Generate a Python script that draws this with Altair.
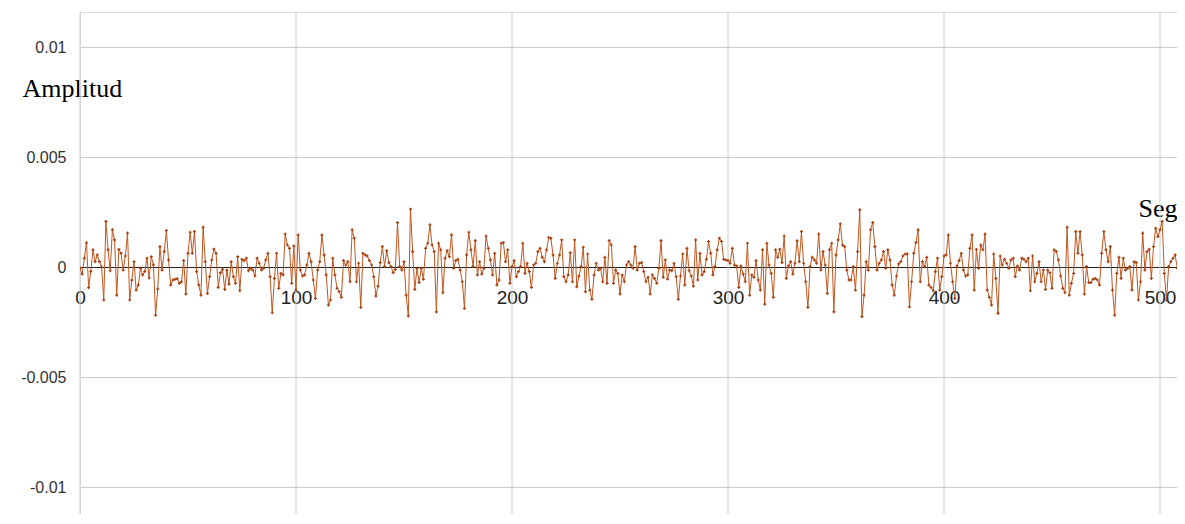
import altair as alt
import pandas as pd

# Amplitude readings, in units of 1e-4, one per sample (samples 0..511)
AMP_E4_A = [-0.5, -3.2, 4, 11, -9.4, -2, 7.8, 2.4, 5.5, 2.4, 0, -15, 20.7, 7.8, -1.7, 16.9, 12.3, -12.8, 8, 6.2, -1.4, 5, 15.4, -15, -6, 2.4, -10.5, -8.2, -0.6, -3.6, -2, 4, -5, 4.7, 1, -21.9, -10, 9.3, -1.4, 7, 16.6, 3.2, -8.2]
AMP_E4_B = [-5.9, -5.6, -5.3, -7.4, -6.7, 2.9, -12.3, 6.2, 15.8, 6.2, 16.1, -2.1, -8.2, -12.8, 18.1, 2.4, -12, -4.4, 3.2, 8.1, 6.2, -9.3, -2.6, -1.1, -10.2, -1.4, -7.8, 2.4, -4.4, -7.4, 4.7, -10.8, 3.5, 2.9, 4, -1.7, -0.6, -1.4, -4.1, 4, 1.7, -1.4, -0.6]
AMP_E4_C = [3.2, 6.2, -4.4, -20.8, -5.2, 6.2, -9.7, -2.9, -3.6, 15, 10, 8.5, -7.4, 9.6, -10.5, 14.6, -1.4, -4.1, -3.6, 0.9, 6.2, 2.4, -5.9, -14.3, -1.4, 2.4, 14.6, 5.5, -3.6, -17.3, -15, 4, -3.6, -9.7, -11.2, -13.8, 2.9, 0.9, 2.4, -6.7, 16.9, 13.1, -6.7]
AMP_E4_D = [1.7, -18.4, 6.2, 5.5, 5, 2.9, 0.9, -4.4, -13.2, -8.7, 2, 9.3, 0.2, 7.4, 2, 0.2, -2.6, -1.1, 20.2, 0.2, -1.4, 2.4, -12.8, -22.3, 26.3, 7, -10.2, -0.6, -7.1, -0.6, -5.6, 8.5, 10.8, 19.2, 10, 7, -20.4, 10.8, 7.8, -11.7, 4, 7.4, 4.7]
AMP_E4_E = [14.6, -0.6, 2.9, 3.5, -1.4, -6.7, -18.8, 5.5, 15.8, 7.8, 0.2, 12, -3.6, 2.4, -3.2, -0.6, 14.1, 8.5, 3.2, -3.6, 6.2, -8.2, -5.9, 10.8, 11.1, 2.4, 7.8, -7.4, 0.2, 2.9, -4.4, -2.1, 0.2, 10.8, -2.9, 1.7, -2.1, -9.3, 0.9, 1.7, 7, 8.5]
AMP_E4_F = [4.4, 2.4, 7.8, 13.4, 13.1, 5.5, -5.2, 1.7, 5.5, 12.3, -4.4, -6.7, -3.6, 6.5, -6.7, 12.3, -9, -4.1, 0.2, 9, -11.2, 5.9, -10.5, -14.7, -3.6, 1.7, -1.4, -0.6, -6.7, 4.4, -7.4, 12, 10, -7.4, -1.4, -2.9, -12.3, -3.6, -6.7, 0.9, 2.4, 0.9, -0.6]
AMP_E4_G = [9.3, -1.4, 1.7, 2, -2.1, -6.7, -4.7, -12.3, -3.6, -5.2, -7.4, -0.6, 12, -4.7, 3.2, -5.5, -1.4, -1.7, 1.7, -4.4, -14.7, -4.1, 5.9, -8.2, 8.5, -1.7, -4.1, -8.7, 12.3, -5.9, 6.2, -3.6, -2.1, 3.5, 11.6, 6.2, -3.6, 0.2, 7.8, 13.1, 11.6]
AMP_E4_H = [3.5, 3.2, 2.9, 1.7, 8.5, 0.9, 0.5, -9.3, 0.5, -3.2, -6.7, 10.8, -12.8, -3.6, -4.7, 2.9, -5.9, -10.5, 7.8, -16.9, 10.8, 0.9, -2.9, -13.8, 7.8, 4.4, 8.1, 2, 14.1, -5.2, 0.5, 2.4, -3.2, 1.7, 11.9, 2.4, 16.1, 1.7, -6.7, -18.4, 0.2, 4.4, 3.2, 1.7]
AMP_E4_I = [15, -1.4, 7, 0.9, -12, 7.8, 10.8, -20.4, 5.5, 12.3, 19.6, 10, 9.3, -1.4, -5.9, -5.9, 0.2, -10.5, 7, 26, -22.6, -12.8, 2.4, -1.4, 16.9, 20.2, 9.3, -1.4, 1.7, 3.2, 7, -0.6, 7.8, 3.2, -8.2, -12.8, -4.1, 1.4, 2.4, 5, 5.9, 5.9]
AMP_E4_J = [-18.1, -6.7, 6.2, 11.1, 16.9, -6.7, 2.4, 0.2, 4.4, -8.2, -9.3, -10.8, -2.1, 4, -10.5, -4.4, 5, 5.5, 14.6, 1.7, -6.7, -14.3, 0.5, 2.9, 6.2, -1.4, -4.1, -3.6, 8.5, 14.6, -10.5, 8, -0.6, 10, 7.8, 15, -10.5, -13.8, -17.3, 5.9, -5.2, -21.1]
AMP_E4_K = [5, 0.9, 3.5, 1.7, -0.6, 3.2, 4, -4.4, 0.5, -1.4, 4, 3.5, 2.4, 4, -10.8, 5, -6.7, -2.9, 2.4, -6.7, -1.4, -10.2, -1.4, -2.6, -9.7, 7.8, 7, 3.2, -4.1, -9.7, -11.7, 18.1, -12.8, -7.4, -2.9, 16.1, 6.2, 16.1, 5.5, -12.3, 0.2, -7.1, -7.1]
AMP_E4_L = [-5.6, -5.2, -5.9, -8.2, 6.2, 16.1, 7.8, 2.4, 9.3, -10.5, -21.9, -2.9, 4.4, -5.2, 4, -1.4, -0.6, 0.2, -10.5, 2.4, 2, -15, -6.7, 15.4, -1.4, 7, 8.1, -5.2, 9.3, 17.6, 13.8, 16.9, 20.7, -2.9, -15, 0.2, 2.4, 4, 5.5, -0.6, 7.8, -9.7, 7.8]

X_TICKS = [0, 100, 200, 300, 400, 500]
Y_TICKS = [-0.01, -0.005, 0, 0.005, 0.01]
X_DOMAIN = [0, 507.87]
Y_DOMAIN = [-0.011227, 0.011591]

segments = [AMP_E4_A, AMP_E4_B, AMP_E4_C, AMP_E4_D, AMP_E4_E, AMP_E4_F,
            AMP_E4_G, AMP_E4_H, AMP_E4_I, AMP_E4_J, AMP_E4_K, AMP_E4_L]
amp = [v * 1e-4 for seg in segments for v in seg]
df = pd.DataFrame({"seg": list(range(len(amp))), "amp": amp})
grid_df = pd.DataFrame({"x": X_TICKS})

W, H = 1097, 502
zero_from_bottom = H * (0 - Y_DOMAIN[0]) / (Y_DOMAIN[1] - Y_DOMAIN[0])

xscale = alt.Scale(domain=X_DOMAIN, nice=False, zero=False)
yscale = alt.Scale(domain=Y_DOMAIN, nice=False, zero=False)

xaxis = alt.Axis(
    values=X_TICKS, grid=False, ticks=False, orient="bottom",
    offset=-zero_from_bottom, domainColor="#222222", domainWidth=1,
    labelFont="Liberation Sans", labelFontSize=19, labelColor="#222222",
    labelPadding=21, labelFlush=False, labelOverlap=False,
    title="Seg", titleFont="Liberation Serif", titleFontSize=26,
    titleFontWeight="normal", titleColor="#000000", titleAlign="right",
    titleBaseline="alphabetic", titleX=W, titleY=-51,
)
yaxis = alt.Axis(
    values=Y_TICKS, grid=True, gridColor="#cccccc", gridWidth=1,
    ticks=False, domain=False, labelFont="Liberation Sans", labelFontSize=16,
    labelColor="#333333", labelPadding=14, labelFlush=False,
    labelExpr="datum.value == 0 ? '0' : (datum.value < 0 ? '-' : '') + format(abs(datum.value), '.3~f')",
    title="Amplitud", titleFont="Liberation Serif", titleFontSize=26,
    titleFontWeight="normal", titleColor="#000000", titleAngle=0,
    titleAlign="left", titleBaseline="alphabetic", titleX=-58, titleY=84,
)

grid = alt.Chart(grid_df).mark_rule(color="#cccccc", strokeWidth=1).encode(
    x=alt.X("x:Q", scale=xscale, axis=xaxis),
)

line = alt.Chart(df).mark_line(
    color="#c0561f", strokeWidth=1, clip=True,
    point=alt.OverlayMarkDef(shape="cross", size=9, filled=True, color="#a8400f", clip=True),
).encode(
    x=alt.X("seg:Q", scale=xscale, axis=xaxis),
    y=alt.Y("amp:Q", scale=yscale, axis=yaxis),
)

chart = alt.layer(grid, line).properties(
    width=W, height=H,
    padding={"left": 72, "top": 4, "right": 0, "bottom": 0},
    autosize=alt.AutoSizeParams(type="none"),
).configure_view(strokeWidth=0).configure(background="white")

chart.save("out.html", embed_options={"renderer": "svg", "actions": False})
